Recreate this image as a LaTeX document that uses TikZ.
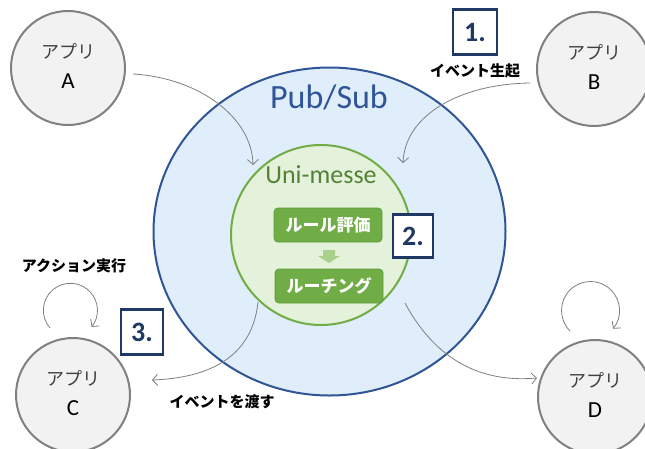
\documentclass[tikz,border=0pt]{standalone}
\usepackage{fontspec}
\setmainfont{Carlito}[BoldFont={Carlito Bold}]
\newfontfamily\jp{Noto Sans CJK JP}
\usetikzlibrary{shapes.geometric,arrows.meta}
\definecolor{pubfill}{HTML}{E0EDFA}
\definecolor{publine}{HTML}{2F5597}
\definecolor{unifill}{HTML}{E4F2DB}
\definecolor{uniline}{HTML}{70AD47}
\definecolor{unitext}{HTML}{548235}
\definecolor{boxfill}{HTML}{70AD47}
\definecolor{boxline}{HTML}{5B9B3A}
\definecolor{navy}{HTML}{1F3864}
\definecolor{appfill}{HTML}{F2F2F2}
\definecolor{appline}{HTML}{808080}
\definecolor{conngray}{HTML}{7F7F7F}
\definecolor{arrowgreen}{HTML}{A9D18E}
\begin{document}
\begin{tikzpicture}[x=1pt,y=-1pt,
 app/.style={circle,draw=appline,fill=appfill,line width=2pt,minimum size=114pt,inner sep=0pt},
 apptitle/.style={font=\jp\fontsize{18}{20}\selectfont,text=black!75,inner sep=0pt},
 appletter/.style={font=\fontsize{23}{26}\selectfont,inner sep=0pt},
 rulebox/.style={rounded corners=4pt,fill=boxfill,draw=boxline,line width=0.8pt,minimum width=108pt,minimum height=34pt,inner sep=0pt,text=white,font=\jp\bfseries\fontsize{17}{20}\selectfont},
 numbox/.style={draw=navy,line width=2.5pt,fill=white,text=navy,font=\bfseries\fontsize{28}{30}\selectfont,minimum width=42pt,minimum height=44pt,inner sep=0pt},
 caption/.style={font=\jp\bfseries\fontsize{15}{17}\selectfont,inner sep=0pt},
 conn/.style={draw=conngray,line width=0.8pt,-{Straight Barb[length=5pt,width=11pt]}}
]
\useasboundingbox (0,0) rectangle (645,448);

% Pub/Sub
\node[ellipse,draw=publine,fill=pubfill,line width=2pt,minimum width=352pt,minimum height=328pt,inner sep=0pt] (pubsub) at (329.5,231.5) {};
\node[text=publine,font=\fontsize{34}{36}\selectfont,inner sep=0pt] (pubsublabel) at (329,97) {Pub/Sub};

% Uni-messe
\node[circle,draw=uniline,fill=unifill,line width=2pt,minimum size=180pt,inner sep=0pt] (uni) at (321,235) {};
\node[text=unitext,font=\fontsize{26}{28}\selectfont,inner sep=0pt] (unilabel) at (321,175) {Uni-messe};

\node[rulebox] (eval) at (328,225) {ルール評価};
\node[rulebox] (route) at (329,286) {ルーチング};
\fill[arrowgreen] (323,250) -- (335,250) -- (335,256) -- (340,256) -- (329,263) -- (318,256) -- (323,256) -- cycle;

% apps
\node[app] (A) at (68,68) {};
\node[apptitle] (At) at (68,51) {アプリ};
\node[appletter] (Al) at (68,81) {A};
\node[app] (B) at (594,69) {};
\node[apptitle] (Bt) at (594,52) {アプリ};
\node[appletter] (Bl) at (594,82) {B};
\node[app] (C) at (73,395) {};
\node[apptitle] (Ct) at (73,378) {アプリ};
\node[appletter] (Cl) at (73,408) {C};
\node[app] (D) at (595,397) {};
\node[apptitle] (Dt) at (595,380) {アプリ};
\node[appletter] (Dl) at (595,410) {D};

% number boxes
\node[numbox,minimum width=44pt,minimum height=45pt] (n1) at (475,32) {1.};
\node[numbox,minimum width=40pt,minimum height=43pt] (n2) at (413,236) {2.};
\node[numbox,minimum width=42pt,minimum height=45pt] (n3) at (142,332) {3.};

% captions
\node[caption] (cap1) at (475,71) {イベント生起};
\node[caption] (cap2) at (74,266) {アクション実行};
\node[caption] (cap3) at (222,402) {イベントを渡す};

% connectors
\coordinate (aS) at (133,74);
\coordinate (aE) at (253,165);
\coordinate (bS) at (530,83);
\coordinate (bE) at (403,163);
\coordinate (cS) at (258,302);
\coordinate (cE) at (152,380);
\coordinate (dS) at (405,303);
\coordinate (dE) at (537,378);
\draw[conn] (aS) .. controls (200,78) and (252,118) .. (aE);
\draw[conn] (bS) .. controls (460,84) and (405,115) .. (bE);
\draw[conn] (cS) .. controls (252,360) and (205,378) .. (cE);
\draw[conn] (dS) .. controls (440,368) and (490,382) .. (dE);

% loops
\coordinate (lcS) at (50,328);
\coordinate (ldS) at (570,331);
\draw[conn] (lcS) arc[start angle=139,end angle=398,radius=27];
\draw[conn] (ldS) arc[start angle=135,end angle=399,radius=29];
\end{tikzpicture}
\end{document}
